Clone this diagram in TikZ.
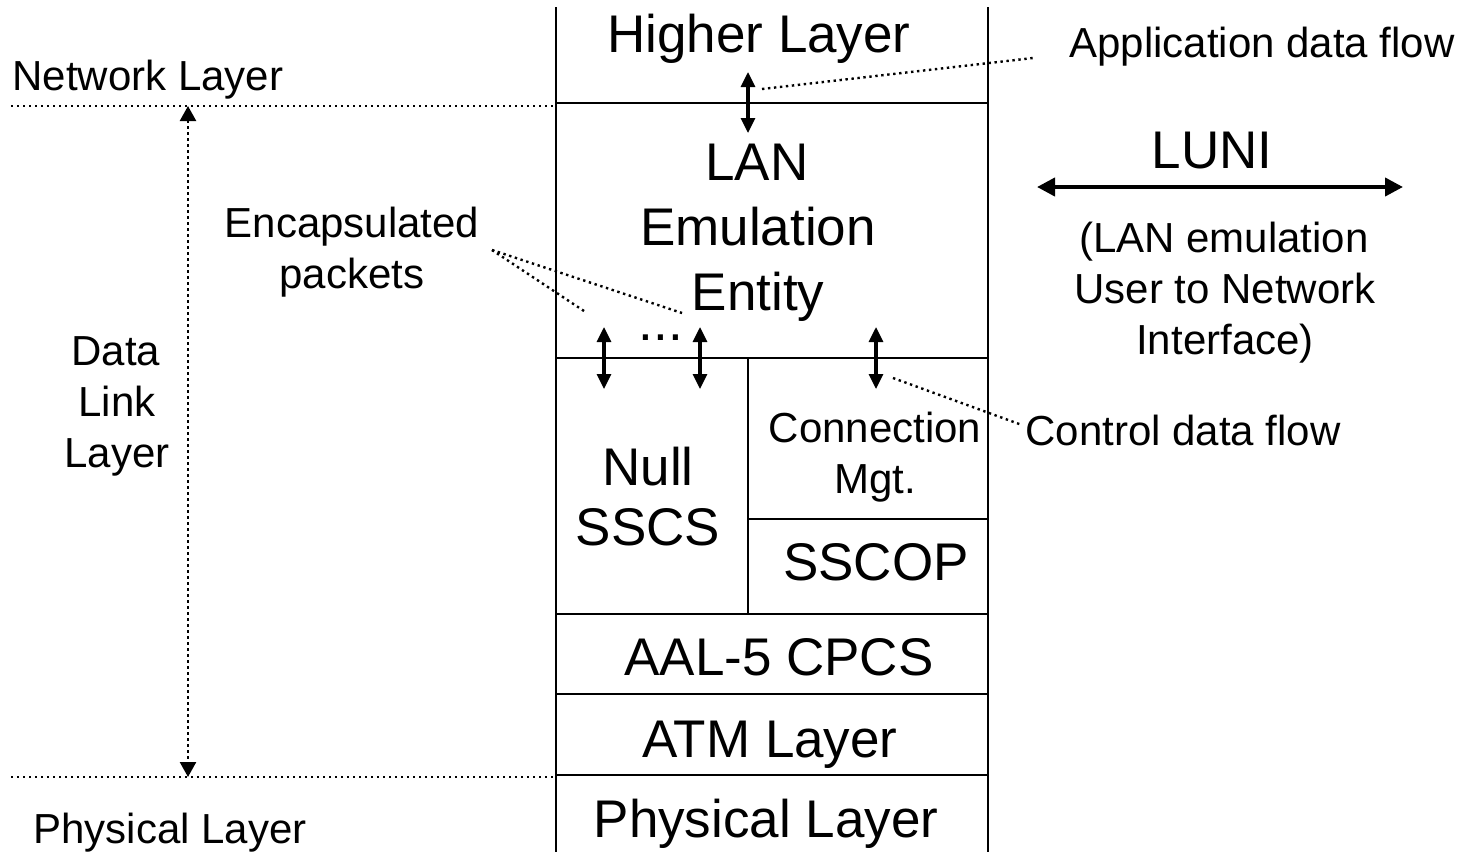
\documentclass[tikz,border=0pt]{standalone}
\usepackage{fontspec}
\setmainfont{Liberation Sans}
\usetikzlibrary{arrows.meta}
\begin{document}
\begin{tikzpicture}[x=0.5pt,y=-0.5pt,
  small/.style={font=\fontsize{21}{25.5}\selectfont, inner sep=0pt, anchor=base},
  large/.style={font=\fontsize{26.5}{32}\selectfont, inner sep=0pt, anchor=base},
  solidline/.style={line width=1.35pt},
  dotline/.style={line width=1.2pt, dash pattern=on 1.2pt off 1.8pt},
  dblarrow/.style={line width=1.6pt, {Triangle[length=7.5pt,width=7pt]}-{Triangle[length=7.5pt,width=7pt]}},
  dotarrow/.style={line width=1.2pt, dash pattern=on 1.2pt off 1.8pt, {Triangle[length=7.5pt,width=8pt]}-{Triangle[length=7.5pt,width=8pt]}},
  luniarrow/.style={line width=2pt, {Triangle[length=9pt,width=9pt]}-{Triangle[length=9pt,width=9pt]}},
]
\useasboundingbox (0,0) rectangle (1462,852);

% ---- protocol stack ----
\coordinate (stl) at (556,7);   \coordinate (sbl) at (556,852);
\coordinate (str) at (988,7);   \coordinate (sbr) at (988,852);
\draw[solidline] (stl) -- (sbl);
\draw[solidline] (str) -- (sbr);
\draw[solidline] (556,103) -- (988,103);
\draw[solidline] (556,358) -- (988,358);
\draw[solidline] (748,358) -- (748,614);
\draw[solidline] (748,519) -- (988,519);
\draw[solidline] (556,614) -- (988,614);
\draw[solidline] (556,694) -- (988,694);
\draw[solidline] (556,775) -- (988,775);

% ---- layer texts ----
\node[large] (higher) at (759,52) {Higher Layer};
\node[large] (lan1) at (757,180) {LAN};
\node[large] (lan2) at (758,245) {Emulation};
\node[large] (lan3) at (758,310) {Entity};
\node[large] (dots) at (661,340) {...};
\node[large] (null1) at (648,485) {Null};
\node[large] (null2) at (648,545) {SSCS};
\node[small] (conn1) at (875,442) {Connection};
\node[small] (conn2) at (875,493) {Mgt.};
\node[large] (sscop) at (876,580) {SSCOP};
\node[large] (aal) at (779,675) {AAL-5 CPCS};
\node[large] (atm) at (770,757) {ATM Layer};
\node[large] (phys) at (766,837) {Physical Layer};

% ---- flow arrows ----
\coordinate (appT) at (748,72);  \coordinate (appB) at (748,133);
\draw[dblarrow] (appT) -- (appB);
\coordinate (e1T) at (604,327);  \coordinate (e1B) at (604,389);
\coordinate (e2T) at (700,327);  \coordinate (e2B) at (700,389);
\coordinate (cT) at (876,327);   \coordinate (cB) at (876,389);
\draw[dblarrow] (e1T) -- (e1B);
\draw[dblarrow] (e2T) -- (e2B);
\draw[dblarrow] (cT) -- (cB);

% ---- left side ----
\coordinate (netL) at (11,106);  \coordinate (netR) at (556,106);
\coordinate (phyL) at (11,777);  \coordinate (phyR) at (556,777);
\draw[dotline] (netL) -- (netR);
\draw[dotline] (phyL) -- (phyR);
\node[small, anchor=base west] (netlayer) at (12,90) {Network Layer};
\node[small, anchor=base west] (phylayer) at (33,843) {Physical Layer};
\coordinate (dlT) at (188,106);  \coordinate (dlB) at (188,777);
\draw[dotarrow] (dlT) -- (dlB);
\node[small] (dl1) at (116,365) {Data};
\node[small] (dl2) at (117,416) {Link};
\node[small] (dl3) at (117,467) {Layer};

\node[small] (enc1) at (352,237) {Encapsulated};
\node[small] (enc2) at (352,288) {packets};
\coordinate (encS) at (492,250);
\coordinate (encE1) at (682,313);
\coordinate (encE2) at (587,313);
\draw[dotline] (encS) -- (encE1);
\draw[dotline] (encS) -- (encE2);

% ---- right side ----
\node[small, anchor=base west] (appflow) at (1069,57) {Application data flow};
\coordinate (appS) at (762,89);  \coordinate (appE) at (1033,58);
\draw[dotline] (appS) -- (appE);

\node[large] (luni) at (1212,168) {LUNI};
\coordinate (luniL) at (1037,187);  \coordinate (luniR) at (1403,187);
\draw[luniarrow] (luniL) -- (luniR);
\node[small] (lu1) at (1224,252) {(LAN emulation};
\node[small] (lu2) at (1225,303) {User to Network};
\node[small] (lu3) at (1225,354) {Interface)};

\node[small, anchor=base west] (ctrlflow) at (1025,445) {Control data flow};
\coordinate (ctrlS) at (893,378);  \coordinate (ctrlE) at (1022,425);
\draw[dotline] (ctrlS) -- (ctrlE);
\end{tikzpicture}
\end{document}
